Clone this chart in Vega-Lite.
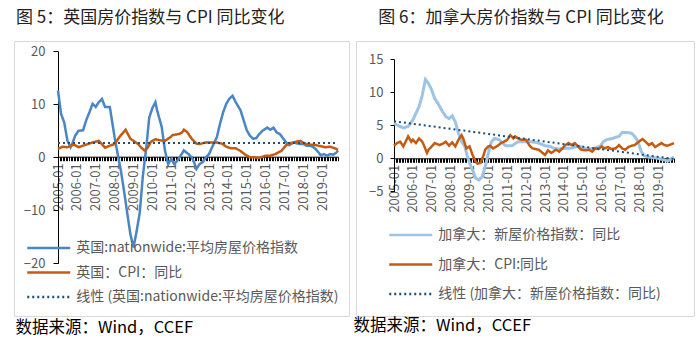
{
  "$schema": "https://vega.github.io/schema/vega-lite/v6.json",
  "padding": {"left": 13, "top": 8, "right": 0, "bottom": 0},
  "bounds": "flush",
  "spacing": 7,
  "config": {
    "font": "Noto Sans CJK SC",
    "view": {"stroke": "#d9d9d9", "strokeWidth": 1},
    "axis": {"grid": false, "labelColor": "#595959", "labelFontSize": 13, "domainColor": "#000000", "tickColor": "#000000", "labelFont": "Noto Sans CJK SC"},
    "legend": {"title": null, "symbolType": "M-2,0H2", "symbolSize": 462, "symbolStrokeWidth": 2.5, "labelFontSize": 14, "labelColor": "#595959", "labelLimit": 400, "labelOffset": 15.5, "padding": 0},
    "title": {"fontSize": 17, "fontWeight": "normal", "color": "#222222", "offset": 14}
  },
  "datasets": {
    "ukh": [
      {"d":"2005-01","v":12.6},{"d":"2005-03","v":8.2},{"d":"2005-05","v":6.6},{"d":"2005-07","v":3.2},{"d":"2005-09","v":1.9},{"d":"2005-10","v":2.5},{"d":"2005-12","v":4.1},{"d":"2006-02","v":5.0},{"d":"2006-05","v":5.1},{"d":"2006-07","v":7.0},{"d":"2006-09","v":8.5},{"d":"2006-11","v":10.1},{"d":"2007-01","v":9.5},{"d":"2007-03","v":10.4},{"d":"2007-05","v":11.0},{"d":"2007-07","v":9.5},{"d":"2007-10","v":9.5},{"d":"2007-12","v":5.7},{"d":"2008-01","v":3.8},{"d":"2008-03","v":0.6},{"d":"2008-05","v":-2.5},{"d":"2008-07","v":-6.3},{"d":"2008-09","v":-10.5},{"d":"2008-11","v":-14.5},{"d":"2009-01","v":-17.0},{"d":"2009-03","v":-14.0},{"d":"2009-05","v":-10.5},{"d":"2009-07","v":-3.5},{"d":"2009-09","v":1.5},{"d":"2009-11","v":7.5},{"d":"2010-01","v":9.3},{"d":"2010-03","v":10.4},{"d":"2010-04","v":8.9},{"d":"2010-07","v":5.7},{"d":"2010-09","v":1.3},{"d":"2010-11","v":-1.3},{"d":"2011-01","v":-0.3},{"d":"2011-03","v":-1.3},{"d":"2011-05","v":-0.6},{"d":"2011-07","v":0.3},{"d":"2011-09","v":1.3},{"d":"2011-12","v":0.6},{"d":"2012-02","v":0.0},{"d":"2012-04","v":-1.3},{"d":"2012-05","v":-2.2},{"d":"2012-07","v":-1.3},{"d":"2012-09","v":-0.9},{"d":"2012-11","v":0.0},{"d":"2013-01","v":0.6},{"d":"2013-03","v":1.9},{"d":"2013-06","v":3.8},{"d":"2013-08","v":6.3},{"d":"2013-10","v":8.5},{"d":"2013-12","v":10.1},{"d":"2014-02","v":11.1},{"d":"2014-04","v":11.6},{"d":"2014-06","v":10.4},{"d":"2014-09","v":8.9},{"d":"2014-11","v":7.0},{"d":"2015-01","v":5.1},{"d":"2015-03","v":4.1},{"d":"2015-05","v":3.5},{"d":"2015-07","v":3.6},{"d":"2015-09","v":4.4},{"d":"2015-11","v":5.0},{"d":"2016-02","v":5.6},{"d":"2016-04","v":5.2},{"d":"2016-06","v":5.6},{"d":"2016-08","v":4.7},{"d":"2016-10","v":4.4},{"d":"2016-12","v":3.6},{"d":"2017-02","v":2.8},{"d":"2017-04","v":2.3},{"d":"2017-07","v":2.8},{"d":"2017-09","v":2.6},{"d":"2017-11","v":2.5},{"d":"2018-01","v":2.5},{"d":"2018-03","v":2.2},{"d":"2018-05","v":2.2},{"d":"2018-07","v":2.0},{"d":"2018-09","v":1.5},{"d":"2018-12","v":0.4},{"d":"2019-02","v":0.6},{"d":"2019-04","v":0.3},{"d":"2019-06","v":0.6},{"d":"2019-08","v":0.5},{"d":"2019-10","v":0.9},{"d":"2019-11","v":1.3}
    ],
    "ukc": [
      {"d":"2005-01","v":1.6},{"d":"2005-04","v":2.0},{"d":"2005-07","v":1.9},{"d":"2005-11","v":2.4},{"d":"2006-02","v":1.9},{"d":"2006-05","v":2.2},{"d":"2006-08","v":2.5},{"d":"2006-11","v":2.8},{"d":"2007-03","v":3.1},{"d":"2007-05","v":2.5},{"d":"2007-07","v":1.8},{"d":"2007-10","v":2.2},{"d":"2008-01","v":2.5},{"d":"2008-04","v":3.8},{"d":"2008-08","v":5.2},{"d":"2008-11","v":3.5},{"d":"2009-01","v":3.1},{"d":"2009-04","v":2.5},{"d":"2009-06","v":1.8},{"d":"2009-08","v":1.3},{"d":"2009-10","v":1.8},{"d":"2009-12","v":2.9},{"d":"2010-03","v":3.4},{"d":"2010-06","v":3.2},{"d":"2010-09","v":3.1},{"d":"2010-12","v":3.7},{"d":"2011-02","v":4.2},{"d":"2011-06","v":4.4},{"d":"2011-08","v":4.7},{"d":"2011-09","v":5.2},{"d":"2011-11","v":4.8},{"d":"2012-02","v":3.5},{"d":"2012-05","v":2.6},{"d":"2012-07","v":2.5},{"d":"2012-11","v":2.8},{"d":"2013-02","v":2.8},{"d":"2013-06","v":2.8},{"d":"2013-09","v":2.6},{"d":"2013-12","v":2.0},{"d":"2014-03","v":1.7},{"d":"2014-06","v":1.7},{"d":"2014-09","v":1.2},{"d":"2014-12","v":0.5},{"d":"2015-03","v":0.0},{"d":"2015-06","v":0.0},{"d":"2015-09","v":-0.1},{"d":"2016-01","v":0.3},{"d":"2016-04","v":0.3},{"d":"2016-07","v":0.6},{"d":"2016-11","v":1.2},{"d":"2017-02","v":2.3},{"d":"2017-05","v":2.7},{"d":"2017-08","v":2.9},{"d":"2017-11","v":3.1},{"d":"2018-02","v":2.6},{"d":"2018-05","v":2.4},{"d":"2018-09","v":2.3},{"d":"2018-12","v":2.1},{"d":"2019-03","v":1.9},{"d":"2019-06","v":2.0},{"d":"2019-09","v":1.7},{"d":"2019-11","v":1.4}
    ],
    "ukt": [{"d":"2005-01","v":2.7},{"d":"2019-11","v":2.7}],
    "cah": [
      {"d":"2005-01","v":5.3},{"d":"2005-04","v":4.9},{"d":"2005-07","v":4.6},{"d":"2005-10","v":4.8},{"d":"2006-01","v":5.8},{"d":"2006-03","v":6.8},{"d":"2006-05","v":7.8},{"d":"2006-07","v":9.5},{"d":"2006-09","v":11.9},{"d":"2006-11","v":11.3},{"d":"2007-01","v":10.3},{"d":"2007-03","v":9.0},{"d":"2007-05","v":8.3},{"d":"2007-08","v":7.0},{"d":"2007-10","v":6.3},{"d":"2007-12","v":6.0},{"d":"2008-02","v":6.4},{"d":"2008-04","v":5.5},{"d":"2008-06","v":3.8},{"d":"2008-08","v":2.5},{"d":"2008-10","v":1.8},{"d":"2008-12","v":0.0},{"d":"2009-03","v":-1.8},{"d":"2009-05","v":-3.0},{"d":"2009-07","v":-3.3},{"d":"2009-09","v":-2.8},{"d":"2009-11","v":-1.3},{"d":"2010-01","v":0.8},{"d":"2010-03","v":2.5},{"d":"2010-05","v":3.0},{"d":"2010-08","v":2.8},{"d":"2010-10","v":2.3},{"d":"2010-12","v":1.9},{"d":"2011-04","v":1.9},{"d":"2011-08","v":2.5},{"d":"2011-12","v":2.5},{"d":"2012-04","v":2.5},{"d":"2012-07","v":2.4},{"d":"2012-10","v":2.2},{"d":"2013-01","v":1.9},{"d":"2013-04","v":1.8},{"d":"2013-07","v":1.5},{"d":"2013-10","v":1.4},{"d":"2014-02","v":1.5},{"d":"2014-05","v":1.5},{"d":"2014-08","v":1.7},{"d":"2014-11","v":1.8},{"d":"2015-02","v":1.5},{"d":"2015-05","v":1.4},{"d":"2015-08","v":1.5},{"d":"2015-12","v":1.8},{"d":"2016-02","v":2.5},{"d":"2016-04","v":2.8},{"d":"2016-06","v":2.9},{"d":"2016-08","v":3.0},{"d":"2016-10","v":3.2},{"d":"2016-12","v":3.3},{"d":"2017-02","v":3.9},{"d":"2017-05","v":3.9},{"d":"2017-08","v":3.8},{"d":"2017-10","v":3.3},{"d":"2017-12","v":2.6},{"d":"2018-02","v":1.1},{"d":"2018-04","v":0.4},{"d":"2018-07","v":0.2},{"d":"2018-10","v":0.1},{"d":"2019-01","v":0.0},{"d":"2019-04","v":-0.2},{"d":"2019-07","v":-0.4},{"d":"2019-10","v":0.0},{"d":"2019-11","v":0.2}
    ],
    "cac": [
      {"d":"2005-01","v":1.9},{"d":"2005-03","v":2.3},{"d":"2005-05","v":2.5},{"d":"2005-07","v":1.8},{"d":"2005-08","v":2.3},{"d":"2005-10","v":3.3},{"d":"2005-12","v":2.5},{"d":"2006-01","v":2.8},{"d":"2006-03","v":2.3},{"d":"2006-05","v":3.0},{"d":"2006-07","v":2.5},{"d":"2006-08","v":2.0},{"d":"2006-10","v":0.8},{"d":"2006-11","v":1.3},{"d":"2007-01","v":1.8},{"d":"2007-03","v":2.3},{"d":"2007-06","v":2.0},{"d":"2007-08","v":2.2},{"d":"2007-10","v":2.5},{"d":"2007-12","v":1.9},{"d":"2008-02","v":2.4},{"d":"2008-04","v":1.8},{"d":"2008-06","v":2.8},{"d":"2008-08","v":3.5},{"d":"2008-09","v":3.0},{"d":"2008-11","v":1.5},{"d":"2009-01","v":1.8},{"d":"2009-03","v":0.5},{"d":"2009-05","v":-0.5},{"d":"2009-06","v":-0.8},{"d":"2009-08","v":-0.7},{"d":"2009-10","v":0.5},{"d":"2009-11","v":1.3},{"d":"2010-01","v":1.8},{"d":"2010-02","v":1.9},{"d":"2010-04","v":1.5},{"d":"2010-07","v":1.9},{"d":"2010-09","v":2.3},{"d":"2010-11","v":2.5},{"d":"2011-01","v":2.8},{"d":"2011-03","v":3.5},{"d":"2011-05","v":3.0},{"d":"2011-06","v":3.3},{"d":"2011-08","v":3.0},{"d":"2011-10","v":2.8},{"d":"2012-01","v":2.8},{"d":"2012-03","v":2.0},{"d":"2012-05","v":1.5},{"d":"2012-07","v":1.4},{"d":"2012-09","v":1.3},{"d":"2012-11","v":0.9},{"d":"2013-01","v":0.5},{"d":"2013-03","v":1.2},{"d":"2013-05","v":0.8},{"d":"2013-08","v":1.3},{"d":"2013-10","v":1.0},{"d":"2013-12","v":1.5},{"d":"2014-02","v":2.0},{"d":"2014-04","v":2.3},{"d":"2014-06","v":2.0},{"d":"2014-08","v":2.3},{"d":"2014-10","v":1.8},{"d":"2014-12","v":1.3},{"d":"2015-03","v":1.2},{"d":"2015-05","v":1.3},{"d":"2015-07","v":1.0},{"d":"2015-09","v":1.5},{"d":"2015-11","v":1.4},{"d":"2016-01","v":1.8},{"d":"2016-03","v":1.5},{"d":"2016-05","v":1.7},{"d":"2016-07","v":1.4},{"d":"2016-10","v":1.5},{"d":"2016-12","v":2.0},{"d":"2017-02","v":1.5},{"d":"2017-04","v":1.3},{"d":"2017-06","v":1.7},{"d":"2017-08","v":1.9},{"d":"2017-10","v":2.0},{"d":"2017-12","v":2.4},{"d":"2018-03","v":2.9},{"d":"2018-05","v":2.5},{"d":"2018-07","v":2.0},{"d":"2018-09","v":2.3},{"d":"2018-11","v":1.7},{"d":"2019-01","v":2.0},{"d":"2019-03","v":2.3},{"d":"2019-05","v":2.0},{"d":"2019-07","v":1.9},{"d":"2019-10","v":2.2},{"d":"2019-11","v":2.3}
    ],
    "cat": [{"d":"2005-01","v":5.6},{"d":"2019-11","v":-0.1}]
  },
  "resolve": {
    "scale": {"x": "independent", "y": "independent", "color": "independent", "strokeDash": "independent"},
    "legend": {"color": "independent", "strokeDash": "independent"}
  },
  "hconcat": [
    {
      "width": 335,
      "height": 275,
      "title": {"text": "图 5：英国房价指数与 CPI 同比变化", "anchor": "start", "dx": 2},
      "encoding": {
        "x": {
          "field": "d", "type": "temporal",
          "scale": {"type": "utc", "domain": [{"year": 2005, "month": 1, "utc": true}, {"year": 2019, "month": 11, "utc": true}], "range": [44, 324]},
          "axis": {"orient": "bottom", "offset": -159.3, "tickCount": {"interval": "month", "step": 1}, "labelExpr": "utcmonth(datum.value) === 0 ? utcFormat(datum.value, '%Y-%m') : ''", "labelAngle": -90, "labelOverlap": false, "labelFlush": false, "labelBound": false, "labelPadding": 2, "tickSize": 4, "title": "数据来源：Wind，CCEF", "titleX": 1, "titleY": 171, "titleAlign": "left", "titleAnchor": null, "titleBaseline": "middle", "titleAngle": 0, "titleFontSize": 16.5, "titleFontWeight": "normal", "titleColor": "#000000", "titleLimit": 500, "titleFont": "Noto Sans CJK SC"}
        },
        "y": {
          "field": "v", "type": "quantitative",
          "scale": {"domain": [-20, 20], "range": [222.3, 10.3], "nice": false, "zero": false},
          "axis": {"orient": "left", "offset": -44, "values": [-20, -10, 0, 10, 20], "tickSize": 5, "labelPadding": 8, "title": null}
        }
      },
      "layer": [
        {
          "data": {"name": "ukh"},
          "mark": {"type": "line", "strokeWidth": 2.5},
          "encoding": {
            "color": {"datum": "英国:nationwide:平均房屋价格指数", "type": "nominal", "scale": {"domain": ["英国:nationwide:平均房屋价格指数", "英国：CPI：同比", "线性 (英国:nationwide:平均房屋价格指数)"], "range": ["#4a86c3", "#c55a11", "#1f4e79"]}, "legend": {"orient": "none", "legendX": 22.75, "legendY": 195, "rowPadding": 5.5}},
            "strokeDash": {"datum": "英国:nationwide:平均房屋价格指数", "type": "nominal", "scale": {"domain": ["英国:nationwide:平均房屋价格指数", "英国：CPI：同比", "线性 (英国:nationwide:平均房屋价格指数)"], "range": [[1, 0], [1, 0], [2, 3]]}, "legend": {"orient": "none", "legendX": 22.75, "legendY": 195, "rowPadding": 5.5}}
          }
        },
        {
          "data": {"name": "ukc"},
          "mark": {"type": "line", "strokeWidth": 2.5},
          "encoding": {
            "color": {"datum": "英国：CPI：同比", "type": "nominal"},
            "strokeDash": {"datum": "英国：CPI：同比", "type": "nominal"}
          }
        },
        {
          "data": {"name": "ukt"},
          "mark": {"type": "line", "strokeWidth": 2},
          "encoding": {
            "color": {"datum": "线性 (英国:nationwide:平均房屋价格指数)", "type": "nominal"},
            "strokeDash": {"datum": "线性 (英国:nationwide:平均房屋价格指数)", "type": "nominal"}
          }
        }
      ]
    },
    {
      "width": 338,
      "height": 275,
      "title": {"text": "图 6：加拿大房价指数与 CPI 同比变化", "anchor": "middle", "dx": -4},
      "encoding": {
        "x": {
          "field": "d", "type": "temporal",
          "scale": {"type": "utc", "domain": [{"year": 2005, "month": 1, "utc": true}, {"year": 2019, "month": 11, "utc": true}], "range": [38, 318]},
          "axis": {"orient": "bottom", "offset": -157.7, "tickCount": {"interval": "month", "step": 1}, "labelExpr": "utcmonth(datum.value) === 0 ? utcFormat(datum.value, '%Y-%m') : ''", "labelAngle": -90, "labelOverlap": false, "labelFlush": false, "labelBound": false, "labelPadding": 2, "tickSize": 4, "title": "数据来源：Wind，CCEF", "titleX": -3, "titleY": 167.5, "titleAlign": "left", "titleAnchor": null, "titleBaseline": "middle", "titleAngle": 0, "titleFontSize": 16.5, "titleFontWeight": "normal", "titleColor": "#000000", "titleLimit": 500, "titleFont": "Noto Sans CJK SC"}
        },
        "y": {
          "field": "v", "type": "quantitative",
          "scale": {"domain": [-5, 15], "range": [150.4, 18], "nice": false, "zero": false},
          "axis": {"orient": "left", "offset": -38, "values": [-5, 0, 5, 10, 15], "tickSize": 4, "labelPadding": 7, "title": null}
        }
      },
      "layer": [
        {
          "data": {"name": "cah"},
          "mark": {"type": "line", "strokeWidth": 3},
          "encoding": {
            "color": {"datum": "加拿大：新屋价格指数：同比", "type": "nominal", "scale": {"domain": ["加拿大：新屋价格指数：同比", "加拿大：CPI:同比", "线性 (加拿大：新屋价格指数：同比)"], "range": ["#9dc3e6", "#c55a11", "#1f4e79"]}, "legend": {"orient": "none", "legendX": 42.75, "legendY": 182, "rowPadding": 10.5}},
            "strokeDash": {"datum": "加拿大：新屋价格指数：同比", "type": "nominal", "scale": {"domain": ["加拿大：新屋价格指数：同比", "加拿大：CPI:同比", "线性 (加拿大：新屋价格指数：同比)"], "range": [[1, 0], [1, 0], [2, 3]]}, "legend": {"orient": "none", "legendX": 42.75, "legendY": 182, "rowPadding": 10.5}}
          }
        },
        {
          "data": {"name": "cac"},
          "mark": {"type": "line", "strokeWidth": 2.5},
          "encoding": {
            "color": {"datum": "加拿大：CPI:同比", "type": "nominal"},
            "strokeDash": {"datum": "加拿大：CPI:同比", "type": "nominal"}
          }
        },
        {
          "data": {"name": "cat"},
          "mark": {"type": "line", "strokeWidth": 2},
          "encoding": {
            "color": {"datum": "线性 (加拿大：新屋价格指数：同比)", "type": "nominal"},
            "strokeDash": {"datum": "线性 (加拿大：新屋价格指数：同比)", "type": "nominal"}
          }
        }
      ]
    }
  ]
}
